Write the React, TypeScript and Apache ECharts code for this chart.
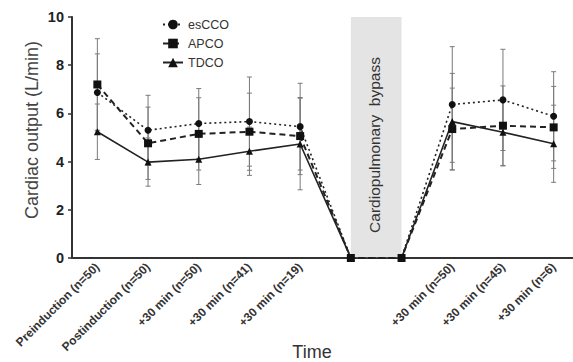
import React, { useEffect, useRef } from "react";
import * as echarts from "echarts";

const categories = [
  "Preinduction (n=50)",
  "Postinduction (n=50)",
  "+30 min (n=50)",
  "+30 min (n=41)",
  "+30 min (n=19)",
  "",
  "",
  "+30 min (n=50)",
  "+30 min (n=45)",
  "+30 min (n=6)",
];

const esCCO = [6.87, 5.3, 5.58, 5.66, 5.45, 0, 0, 6.37, 6.56, 5.88];
const APCO = [7.2, 4.76, 5.15, 5.24, 5.06, 0, 0, 5.35, 5.49, 5.42];
const TDCO = [5.24, 3.98, 4.1, 4.43, 4.73, 0, 0, 5.66, 5.22, 4.74];

const esCCOsd = [1.6, 1.45, 1.45, 1.85, 1.8, null, null, 2.4, 2.1, 1.85];
const APCOsd = [1.9, 1.5, 1.5, 1.6, 1.6, null, null, 1.7, 1.65, 1.7];
const TDCOsd = [1.15, 1.0, 1.05, 1.0, 1.9, null, null, 2.0, 1.4, 1.6];

const yTicks = { min: 0, max: 10, interval: 2 };

function errData(vals: number[], sds: (number | null)[]) {
  const out: any[] = [];
  vals.forEach((v, i) => {
    const s = sds[i];
    if (s != null) out.push([i, v - s, v + s]);
  });
  return out;
}

function errSeries(name: string, vals: number[], sds: (number | null)[]) {
  return {
    type: "custom",
    name: name + "-err",
    z: 1,
    silent: true,
    data: errData(vals, sds),
    renderItem: (params: any, api: any) => {
      const x = api.value(0);
      const lo = api.coord([x, api.value(1)]);
      const hi = api.coord([x, api.value(2)]);
      const w = 2.5;
      const style = { stroke: "#7a7a7a", lineWidth: 1 };
      return {
        type: "group",
        children: [
          { type: "line", shape: { x1: lo[0], y1: lo[1], x2: hi[0], y2: hi[1] }, style },
          { type: "line", shape: { x1: lo[0] - w, y1: lo[1], x2: lo[0] + w, y2: lo[1] }, style },
          { type: "line", shape: { x1: hi[0] - w, y1: hi[1], x2: hi[0] + w, y2: hi[1] }, style },
        ],
      };
    },
  };
}

export default function App() {
  const ref = useRef<HTMLDivElement>(null);
  useEffect(() => {
    document.body.style.margin = "0";
    const chart = echarts.init(ref.current!, undefined, { renderer: "svg" });
    const font = "Liberation Sans, Arial, Helvetica, sans-serif";
    chart.setOption({
      animation: false,
      backgroundColor: "#ffffff",
      textStyle: { fontFamily: font },
      grid: { left: 72, top: 17, width: 507, height: 241, outerBoundsMode: "none", containLabel: false },
      legend: {
        data: ["esCCO", "APCO", "TDCO"],
        orient: "vertical",
        left: 157,
        top: 13,
        itemWidth: 20,
        itemHeight: 12,
        itemGap: 6,
        textStyle: { fontSize: 12.5, color: "#333", fontFamily: font },
      },
      xAxis: {
        type: "category",
        data: categories,
        boundaryGap: true,
        axisLine: { lineStyle: { color: "#333", width: 2 } },
        axisTick: { alignWithLabel: true, length: 4, lineStyle: { color: "#333", width: 1.5 } },
        axisLabel: {
          interval: 0,
          rotate: 45,
          fontSize: 12,
          fontWeight: "bold",
          color: "#333",
          margin: 7,
          fontFamily: font,
        },
      },
      yAxis: {
        type: "value",
        min: yTicks.min,
        max: yTicks.max,
        interval: yTicks.interval,
        splitLine: { show: false },
        axisLine: { show: true, lineStyle: { color: "#333", width: 2 } },
        axisTick: { show: true, length: 4, lineStyle: { color: "#333", width: 1.5 } },
        axisLabel: { fontSize: 14.5, fontWeight: "bold", color: "#222", margin: 8, fontFamily: font },
      },
      graphic: [
        {
          type: "text",
          x: 32,
          y: 130,
          rotation: Math.PI / 2,
          style: {
            text: "Cardiac output (L/min)",
            align: "center",
            verticalAlign: "middle",
            font: "18px " + font,
            fill: "#444",
          },
        },
        {
          type: "text",
          x: 312,
          y: 352,
          style: {
            text: "Time",
            align: "center",
            verticalAlign: "middle",
            font: "18px " + font,
            fill: "#333",
          },
        },
        {
          type: "text",
          x: 374,
          y: 145,
          z: 10,
          rotation: Math.PI / 2,
          style: {
            text: "Cardiopulmonary  bypass",
            align: "center",
            verticalAlign: "middle",
            font: "15.5px " + font,
            fill: "#333",
          },
        },
      ],
      series: [
        errSeries("esCCO", esCCO, esCCOsd),
        errSeries("APCO", APCO, APCOsd),
        errSeries("TDCO", TDCO, TDCOsd),
        {
          name: "esCCO",
          type: "line",
          data: esCCO,
          z: 3,
          symbol: "circle",
          symbolSize: 7,
          itemStyle: { color: "#111" },
          lineStyle: { color: "#222", width: 1.6, type: [2, 3] },
          markArea: {
            silent: true,
            itemStyle: { color: "#e4e4e4" },
            data: [[{ xAxis: 5, yAxis: 0 }, { xAxis: 6, yAxis: 10 }]],
          },
        },
        {
          name: "APCO",
          type: "line",
          data: APCO,
          z: 3,
          symbol: "rect",
          symbolSize: 8,
          itemStyle: { color: "#111" },
          lineStyle: { color: "#222", width: 2, type: [6, 4] },
        },
        {
          name: "TDCO",
          type: "line",
          data: TDCO,
          z: 3,
          symbol: "triangle",
          symbolSize: 7,
          itemStyle: { color: "#111" },
          lineStyle: { color: "#222", width: 1.6, type: "solid" },
        },
      ],
    });
    return () => chart.dispose();
  }, []);
  return <div ref={ref} style={{ width: 573, height: 362 }} />;
}
